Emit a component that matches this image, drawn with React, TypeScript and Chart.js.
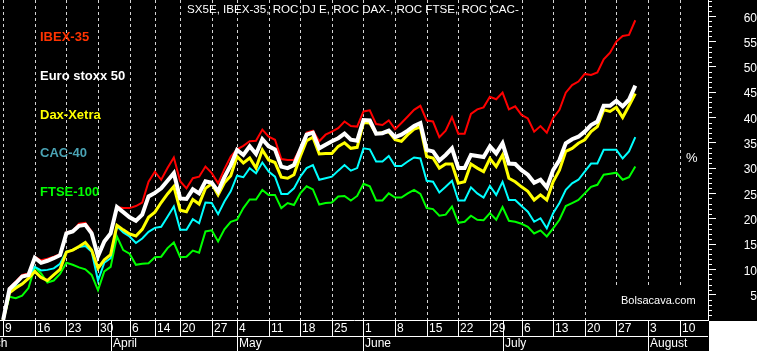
import { useEffect, useRef } from 'react';
import { Chart, registerables } from 'chart.js';

Chart.register(...registerables);

// ---------- calendar / categories ----------
const HOLIDAYS = ['2009-04-10', '2009-04-13', '2009-05-01'];
const FIRST_DAY = '2009-03-09';
const LAST_DAY = '2009-08-14';

function tradingDays(from: string, to: string): string[] {
  const out: string[] = [];
  const d = new Date(from + 'T12:00:00Z');
  const end = new Date(to + 'T12:00:00Z');
  while (d <= end) {
    const wd = d.getUTCDay();
    const s = d.toISOString().slice(0, 10);
    if (wd !== 0 && wd !== 6 && !HOLIDAYS.includes(s)) out.push(s);
    d.setUTCDate(d.getUTCDate() + 1);
  }
  return out;
}
const dayLabels = tradingDays(FIRST_DAY, LAST_DAY);

const weekTicks: [string, string][] = [
  ['2009-03-09', '9'], ['2009-03-16', '16'], ['2009-03-23', '23'], ['2009-03-30', '30'],
  ['2009-04-06', '6'], ['2009-04-14', '14'], ['2009-04-20', '20'], ['2009-04-27', '27'],
  ['2009-05-04', '4'], ['2009-05-11', '11'], ['2009-05-18', '18'], ['2009-05-25', '25'],
  ['2009-06-01', '1'], ['2009-06-08', '8'], ['2009-06-15', '15'], ['2009-06-22', '22'],
  ['2009-06-29', '29'], ['2009-07-06', '6'], ['2009-07-13', '13'], ['2009-07-20', '20'],
  ['2009-07-27', '27'], ['2009-08-03', '3'], ['2009-08-10', '10'],
];
const monthTicks: [string, string][] = [
  ['2009-03-02', 'March'], ['2009-04-01', 'April'], ['2009-05-04', 'May'],
  ['2009-06-01', 'June'], ['2009-07-01', 'July'], ['2009-08-03', 'August'],
];

function dayIndex(date: string): number {
  if (date >= FIRST_DAY) return dayLabels.indexOf(date);
  return -tradingDays(date, '2009-03-08').length;
}

// ---------- series (ROC %, from 9 March 2009) ----------
const euroStoxx50 = [
  0, 6.1, 7.3, 8.6, 8.9, 12.3, 11.3, 11.7, 12.2, 12.8,
  17.1, 17.5, 18.6, 18.8, 17.1, 12.6, 15.5, 17.1, 22.3, 21.3,
  20.3, 19.6, 20.8, 24.4, 25.1, 26.0, 27.5, 29.0, 24.0, 23.9,
  25.8, 25.0, 27.4, 27.1, 25.4, 28.2, 30.6, 33.6, 32.6, 34.3,
  32.8, 35.7, 34.3, 33.7, 30.3, 30.0, 30.6, 33.6, 36.6, 37.0,
  33.9, 34.6, 35.3, 35.9, 36.8, 35.6, 35.4, 39.5, 39.4, 36.8,
  36.9, 37.4, 36.1, 36.6, 37.4, 38.3, 38.9, 33.6, 33.3, 31.5,
  32.6, 33.9, 30.0, 30.0, 32.6, 32.4, 32.2, 34.3, 32.9, 34.9,
  30.9, 30.8, 29.6, 28.7, 27.1, 27.7, 26.2, 29.6, 31.6, 34.9,
  35.7, 36.2, 37.2, 38.5, 39.2, 42.3, 42.3, 43.3, 42.2, 43.5,
  46.3,
];
const ibex35 = [
  0, 6.3, 7.6, 8.9, 9.2, 12.5, 11.8, 12.1, 12.5, 13.0,
  17.3, 17.6, 19.0, 19.2, 17.5, 12.8, 15.3, 17.0, 22.3, 22.1,
  22.1, 22.5, 23.2, 27.3, 29.3, 27.7, 30.0, 32.1, 27.4, 26.0,
  28.0, 28.3, 30.3, 29.0, 27.0, 29.8, 32.3, 33.7, 34.4, 35.3,
  35.4, 37.6, 36.2, 35.6, 31.8, 31.6, 31.6, 33.9, 37.0, 37.4,
  35.3, 36.6, 37.2, 37.9, 39.2, 38.3, 38.2, 41.2, 41.4, 38.7,
  38.5, 39.4, 37.7, 38.9, 40.2, 41.5, 42.3, 39.4, 39.2, 36.1,
  37.4, 40.1, 36.8, 36.8, 40.7, 41.6, 42.0, 44.1, 43.6, 44.9,
  41.6, 42.2, 40.5, 39.8, 37.2, 38.3, 37.0, 39.9, 41.5, 44.9,
  46.4, 47.1, 48.6, 48.4, 48.9, 51.5, 52.8, 55.0, 56.1, 56.3,
  59.2,
];
const daxXetra = [
  0, 5.4, 6.3, 7.1, 8.2, 9.6, 8.4, 7.8, 8.9, 10.0,
  13.4, 13.8, 14.5, 15.3, 13.8, 10.2, 11.9, 12.9, 18.7, 17.8,
  17.0, 16.6, 17.9, 20.3, 21.3, 23.2, 24.9, 26.4, 21.7, 21.4,
  23.8, 22.9, 26.0, 26.9, 24.7, 27.1, 28.5, 32.3, 31.0, 32.0,
  30.0, 33.6, 31.6, 31.1, 28.2, 28.0, 28.7, 32.3, 35.4, 36.1,
  32.8, 32.9, 32.9, 34.3, 35.0, 33.9, 34.1, 39.0, 38.9, 36.8,
  37.0, 37.2, 35.6, 35.3, 36.6, 37.7, 38.1, 32.3, 32.0, 30.0,
  30.8, 30.8, 27.0, 27.3, 30.8, 30.0, 29.3, 31.9, 30.3, 32.6,
  28.0, 27.3, 26.3, 25.4, 23.7, 24.7, 23.7, 27.3, 29.6, 33.3,
  33.9, 34.9, 35.6, 37.2, 38.2, 41.5, 41.2, 42.0, 40.0, 42.3,
  44.7,
];
const cac40 = [
  0, 5.9, 6.6, 7.2, 8.2, 10.5, 9.8, 9.9, 10.2, 11.1,
  13.5, 13.8, 14.4, 14.6, 13.5, 7.8, 11.3, 12.2, 18.5, 17.3,
  16.5, 15.2, 16.1, 17.4, 18.2, 18.4, 20.4, 22.4, 17.8, 17.8,
  19.9, 19.1, 23.2, 23.1, 20.9, 23.4, 25.4, 28.5, 28.2, 30.0,
  29.0, 31.1, 29.3, 28.3, 24.9, 24.9, 26.0, 28.3, 30.0, 30.6,
  27.7, 28.0, 28.3, 29.5, 30.6, 29.5, 30.0, 33.9, 33.7, 31.3,
  31.3, 32.4, 30.4, 30.4, 31.3, 32.1, 31.9, 27.5, 27.3, 25.2,
  26.3, 27.5, 23.6, 23.6, 26.2, 25.0, 24.2, 26.5, 24.7, 27.3,
  23.7, 23.7, 22.5, 21.4, 19.4, 20.1, 18.1, 21.1, 23.1, 25.7,
  27.0, 27.7, 29.3, 30.9, 30.9, 33.6, 33.6, 33.6, 31.9, 33.3,
  36.1,
];
const ftse100 = [
  0, 4.6, 4.3, 4.8, 6.3, 10.4, 9.2, 7.4, 7.8, 9.1,
  11.3, 10.9, 10.4, 10.0, 8.9, 5.9, 9.6, 10.5, 16.5, 13.8,
  13.1, 10.9, 11.1, 11.2, 12.4, 12.5, 14.2, 15.3, 12.4, 12.5,
  13.7, 13.3, 17.5, 17.7, 15.5, 17.9, 19.4, 19.8, 22.1, 23.8,
  23.8, 25.7, 24.7, 24.7, 22.1, 23.1, 22.7, 25.0, 26.4, 25.8,
  22.8, 23.1, 23.2, 24.4, 24.5, 23.6, 24.5, 26.9, 26.4, 23.6,
  23.6, 25.0, 24.2, 24.2, 25.0, 25.7, 24.9, 22.1, 21.9, 20.6,
  20.8, 22.4, 19.2, 19.4, 20.6, 19.8, 19.7, 21.1, 19.8, 22.3,
  19.6, 19.4, 19.0, 18.4, 17.1, 17.7, 16.5, 18.1, 19.8, 22.5,
  23.1, 23.7, 25.0, 26.3, 26.7, 28.7, 28.9, 29.1, 27.7, 28.2,
  30.3,
];

const TITLE = 'SX5E, IBEX-35, ROC DJ E, ROC DAX-, ROC FTSE, ROC CAC-';
const legendLabels: [string, string][] = [
  ['IBEX-35', '#ff3300'],
  ['Euro stoxx 50', '#ffffff'],
  ['Dax-Xetra', '#ffff00'],
  ['CAC-40', '#4aa3b4'],
  ['FTSE-100', '#00ff00'],
];
const UNIT_LABEL = '%';
const WATERMARK = 'Bolsacava.com';

const FONT = "'Liberation Sans', Arial, sans-serif";

export default function App() {
  const ref = useRef<HTMLCanvasElement>(null);

  useEffect(() => {
    const canvas = ref.current;
    if (!canvas) return;

    const overlay = {
      id: 'overlay',
      beforeDraw(chart: any) {
        const { ctx, width, height } = chart;
        ctx.save();
        ctx.fillStyle = '#000';
        ctx.fillRect(0, 0, width, height);
        ctx.restore();
      },
      beforeDatasetsDraw(chart: any) {
        const { ctx, chartArea } = chart;
        const xs = chart.scales.x;
        ctx.save();
        ctx.strokeStyle = '#d4d4d4';
        ctx.lineWidth = 1;
        ctx.setLineDash([3, 3]);
        ctx.beginPath();
        weekTicks.forEach(([d]) => {
          const x = Math.round(xs.getPixelForValue(dayIndex(d))) + 0.5;
          ctx.moveTo(x, chartArea.top);
          ctx.lineTo(x, chartArea.bottom);
        });
        ctx.stroke();
        ctx.restore();
      },
      afterDraw(chart: any) {
        const { ctx, chartArea, width, height } = chart;
        const xs = chart.scales.x;
        const ys = chart.scales.y;
        const L = chartArea.left, R = chartArea.right, B = chartArea.bottom;
        ctx.save();

        // minor ticks on the right axis
        ctx.strokeStyle = '#fff';
        ctx.lineWidth = 1;
        ctx.beginPath();
        for (let v = 1; v < 64; v++) {
          if (v % 5 === 0 || v > ys.max) continue;
          const y = Math.round(ys.getPixelForValue(v)) + 0.5;
          ctx.moveTo(R, y);
          ctx.lineTo(R + 4, y);
        }
        ctx.stroke();

        // watermark box
        ctx.fillStyle = '#000';
        ctx.fillRect(604, 285, 102, B - 285);
        ctx.fillStyle = '#fff';
        ctx.font = `11px ${FONT}`;
        ctx.textBaseline = 'middle';
        ctx.textAlign = 'left';
        ctx.fillText(WATERMARK, 621, 301);

        // title
        ctx.font = `11.6px ${FONT}`;
        ctx.fillText(TITLE, 187, 10);

        // % label
        ctx.font = `13px ${FONT}`;
        ctx.fillText(UNIT_LABEL, 686, 158);

        // legend labels
        const ly = [37, 76, 115.5, 153, 192.5];
        ctx.font = `bold 13px ${FONT}`;
        legendLabels.forEach(([t, c], i) => {
          ctx.fillStyle = c;
          ctx.fillText(t, 40, ly[i]);
        });

        // bottom date axis rows
        ctx.beginPath();
        ctx.strokeStyle = '#fff';
        ctx.moveTo(L, B + 16.5);
        ctx.lineTo(R, B + 16.5);
        weekTicks.forEach(([d]) => {
          const x = Math.round(xs.getPixelForValue(dayIndex(d))) + 0.5;
          ctx.moveTo(x, B);
          ctx.lineTo(x, B + 16);
        });
        monthTicks.forEach(([d]) => {
          const x = Math.round(xs.getPixelForValue(dayIndex(d))) + 0.5;
          ctx.moveTo(x, B);
          ctx.lineTo(x, height);
        });
        ctx.stroke();

        ctx.fillStyle = '#fff';
        ctx.font = `12px ${FONT}`;
        ctx.textBaseline = 'middle';
        weekTicks.forEach(([d, t]) => {
          const x = Math.round(xs.getPixelForValue(dayIndex(d)));
          ctx.fillText(t, x + 2, B + 8.5);
        });
        monthTicks.forEach(([d, t]) => {
          const x = Math.round(xs.getPixelForValue(dayIndex(d)));
          ctx.fillText(t, x + 2, B + 24);
        });

        // white corner below the value axis
        ctx.fillStyle = '#fff';
        ctx.fillRect(R + 1, B + 1, width - R - 1, height - B - 1);
        ctx.restore();
      },
    };

    const mk = (label: string, data: number[], color: string, w: number) => ({
      label,
      data,
      borderColor: color,
      backgroundColor: color,
      borderWidth: w,
      pointRadius: 0,
      tension: 0,
      fill: false,
    });

    const chart = new Chart(canvas, {
      type: 'line',
      data: {
        labels: dayLabels,
        datasets: [
          mk('Euro stoxx 50', euroStoxx50, '#ffffff', 4),
          mk('Dax-Xetra', daxXetra, '#ffff00', 3),
          mk('CAC-40', cac40, '#00ffff', 2),
          mk('IBEX-35', ibex35, '#ff0000', 2),
          mk('FTSE-100', ftse100, '#00ff00', 2),
        ],
      },
      options: {
        animation: false,
        responsive: false,
        devicePixelRatio: 1,
        layout: { padding: 0 },
        plugins: { legend: { display: false }, tooltip: { enabled: false } },
        scales: {
          x: {
            type: 'category',
            offset: true,
            ticks: { display: false },
            grid: { display: false, drawTicks: false },
            border: { display: true, color: '#ffffff', width: 1 },
            afterFit: (s: any) => {
              s.height = 31;
              s.paddingLeft = 0;
              s.paddingRight = 0;
            },
          },
          y: {
            type: 'linear',
            position: 'right',
            min: 0,
            max: 63.2,
            grid: {
              drawOnChartArea: false,
              drawTicks: true,
              tickLength: 8,
              tickColor: (c: any) =>
                c.tick && c.tick.value % 5 === 0 && c.tick.value > 0 ? '#ffffff' : 'rgba(0,0,0,0)',
            },
            border: { display: true, color: '#ffffff', width: 1 },
            ticks: {
              stepSize: 1,
              autoSkip: false,
              includeBounds: false,
              color: '#ffffff',
              font: { family: FONT, size: 12 },
              padding: 20,
              crossAlign: 'far',
              labelOffset: 2,
              callback: (v: any) => (Number(v) % 5 === 0 && Number(v) > 0 ? String(v) : ''),
            },
            afterFit: (s: any) => {
              s.width = 49;
              s.paddingTop = 0;
              s.paddingBottom = 0;
            },
          },
        },
      },
      plugins: [overlay],
    } as any);

    return () => chart.destroy();
  }, []);

  return (
    <div style={{ position: 'absolute', left: 0, top: 0, width: 757, height: 351 }}>
      <canvas ref={ref} width={757} height={351} style={{ display: 'block' }} />
    </div>
  );
}
